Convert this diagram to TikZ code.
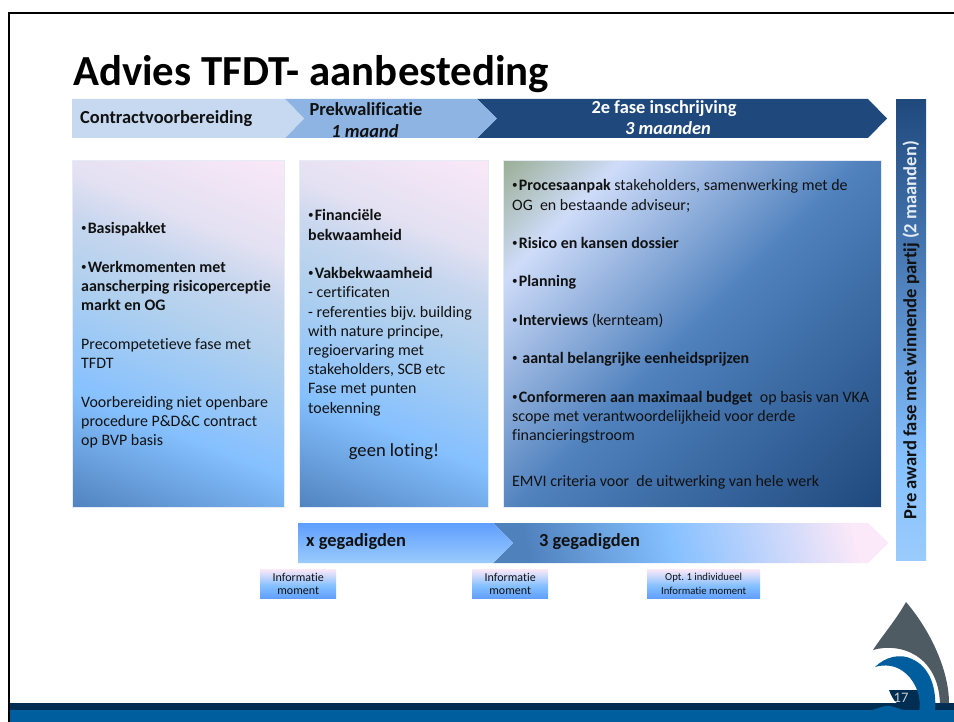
\documentclass[tikz,border=0pt]{standalone}
\usepackage{fontspec}
\setmainfont[Ligatures=NoCommon]{Carlito}
\usetikzlibrary{calc}
\definecolor{navy}{HTML}{1F497D}
\definecolor{midb}{HTML}{8EB4E3}
\definecolor{paleb}{HTML}{C6D9F1}
\definecolor{steel}{HTML}{4F81BD}
\definecolor{skyb}{HTML}{85C0FF}
\definecolor{pinkp}{HTML}{FBE8F8}
\definecolor{lavA}{HTML}{B0D0EE}
\definecolor{lavC}{HTML}{C6D6EE}
\definecolor{lavB}{HTML}{E3E1F2}
\definecolor{sage}{HTML}{9BAF96}
\definecolor{lilac}{HTML}{CFDCF9}
\definecolor{txt}{HTML}{111111}
\definecolor{logog}{HTML}{4F5B63}
\definecolor{logob}{HTML}{005E9E}
\definecolor{logod}{HTML}{002D52}
\definecolor{deepsky}{HTML}{5F9EFF}
\definecolor{lightsky}{HTML}{9ACBFC}
\pgfdeclarehorizontalshading{panelA}{100bp}{color(0bp)=(steel);color(17bp)=(steel);color(35bp)=(skyb);color(52bp)=(lavA);color(61bp)=(lavC);color(68bp)=(lavB);color(83bp)=(pinkp);color(100bp)=(pinkp)}
\pgfdeclarehorizontalshading{panelB}{100bp}{color(0bp)=(sage);color(14.6bp)=(sage);color(26bp)=(lilac);color(50bp)=(steel);color(85.4bp)=(navy);color(100bp)=(navy)}
\pgfdeclarehorizontalshading{barS}{100bp}{color(0bp)=(steel);color(25bp)=(steel);color(47bp)=(skyb);color(75bp)=(pinkp);color(100bp)=(pinkp)}
\pgfdeclareverticalshading{barX}{100bp}{color(0bp)=(lightsky);color(25bp)=(lightsky);color(75bp)=(deepsky);color(100bp)=(deepsky)}
\pgfdeclareverticalshading{sideB}{100bp}{color(0bp)=(lightsky);color(25bp)=(lightsky);color(36bp)=(skyb);color(55bp)=(steel);color(75bp)=(navy);color(100bp)=(navy)}
\pgfdeclareverticalshading{tagS}{100bp}{color(0bp)=(deepsky);color(25bp)=(deepsky);color(47bp)=(skyb);color(75bp)=(pinkp);color(100bp)=(pinkp)}
\tikzset{
  panelone/.style={shading=panelA,shading angle=68,draw=white!85!steel,line width=.5pt,minimum height=347pt,anchor=north west,inner sep=0pt},
  paneltwo/.style={shading=panelB,shading angle=-45,draw=white!85!steel,line width=.5pt,minimum height=347pt,anchor=north west,inner sep=0pt},
  tagbox/.style={shading=tagS,minimum height=29.5pt,anchor=north west,inner sep=0pt,align=flush center,font=\fontsize{12}{13.5}\selectfont,text=txt},
  body/.style={anchor=north west,align=flush left,inner sep=0pt,text=txt,font=\fontsize{15.95}{19.2}\selectfont},
  head/.style={inner sep=0pt,align=flush center,font=\fontsize{18.4}{21}\selectfont\bfseries,text=txt},
  headit/.style={inner sep=0pt,font=\fontsize{18.4}{21}\selectfont\bfseries\itshape,text=txt},
}
\newcommand{\bl}{\makebox[6.6pt][l]{\raisebox{.12em}{\scalebox{.7}{•}}}}
\frenchspacing
\begin{document}
\frenchspacing
\begin{tikzpicture}[x=1pt,y=-1pt]
\useasboundingbox (0,0) rectangle (954,722);
\fill[white] (0,0) rectangle (954,722);
% footer and frame
\fill[logod] (9,703) rectangle (954,710);
\fill[logob] (9,710) rectangle (954,722);
\draw[black,line width=2.4pt] (8.8,722) -- (8.8,12.8) -- (954,12.8);
% title
\node[anchor=base west,inner sep=0pt,font=\fontsize{42.85}{44}\selectfont\bfseries] (title) at (73,85.5) {Advies TFDT- aanbesteding};
% top chevrons
\fill[navy] (477,99) -- (868,99) -- (887,118.5) -- (868,138) -- (477,138) -- (497,118.5) -- cycle;
\fill[midb] (285,99) -- (477,99) -- (497,118.5) -- (477,138) -- (285,138) -- (304,118.5) -- cycle;
\fill[paleb] (72,99) -- (285,99) -- (304,118.5) -- (285,138) -- (72,138) -- cycle;
\node[head,anchor=west] (c1) at (80,118.5) {Contractvoorbereiding};
\node[head] (c2) at (366,109) {Prekwalificatie};
\node[headit] (c2b) at (365,131) {1 maand};
\node[head,text=white] (c3) at (664,109) {2e fase inschrijving};
\node[headit,text=white] (c3b) at (668,128) {3 maanden};
% panels
\node[panelone,minimum width=212pt] (p1) at (72,160) {};
\node[panelone,minimum width=189pt] (p2) at (299,160) {};
\node[paneltwo,minimum width=378pt] (p3) at (503,160) {};
\node[body,text width=200pt] (t1) at (81,222.5) {\bl\textbf{Basispakket}\\[19.5pt]
\bl\textbf{Werkmomenten met}\\\textbf{aanscherping risicoperceptie}\\\textbf{markt en OG}\\[19.5pt]
Precompetetieve fase met\\TFDT\\[19.5pt]
Voorbereiding niet openbare\\procedure P\&D\&C contract\\op BVP basis};
\node[body,text width=178pt] (t2) at (308,209.5) {\bl\textbf{Financiële}\\\textbf{bekwaamheid}\\[19.5pt]
\bl\textbf{Vakbekwaamheid}\\- certificaten\\- referenties bijv. building\\with nature principe,\\regioervaring met\\stakeholders, SCB etc\\Fase met punten\\toekenning};
\node[inner sep=0pt,text=txt,font=\fontsize{18.6}{21}\selectfont] (t2b) at (394,452) {geen loting!};
\node[body,text width=366pt] (t3) at (512,179.5) {\bl\textbf{Procesaanpak} stakeholders, samenwerking met de\\OG\ \ en bestaande adviseur;\\[19.2pt]
\bl\textbf{Risico en kansen dossier}\\[19.2pt]
\bl\textbf{Planning}\\[19.2pt]
\bl\textbf{Interviews} (kernteam)\\[19.2pt]
\bl\ \textbf{aantal belangrijke eenheidsprijzen}\\[19.2pt]
\bl\textbf{Conformeren aan maximaal budget}\ \ op basis van VKA\\scope met verantwoordelijkheid voor derde\\financieringstroom\\[27pt]
EMVI criteria voor\ \ de uitwerking van hele werk};
% side bar
\node[shading=sideB,minimum width=30pt,minimum height=461pt,anchor=north west,inner sep=0pt] (side) at (896,99) {};
\node[rotate=90,inner sep=0pt,font=\fontsize{18.6}{21}\selectfont\bfseries,text=txt] (sidet) at (911,330) {Pre award fase met winnende partij \textcolor{white!85!steel}{(2 maanden)}};
% bottom chevrons
\path[shading=barS,shading angle=15] (493,523) -- (868,523) -- (888,543) -- (868,563) -- (493,563) -- (513,543) -- cycle;
\path[shading=barX] (298,523) -- (493,523) -- (513,543) -- (493,563) -- (298,563) -- cycle;
\node[head,anchor=west] (g1) at (306,541.5) {x gegadigden};
\node[head,anchor=west] (g2) at (539,541.5) {3 gegadigden};
% info tags
\node[tagbox,minimum width=76pt] (i1) at (260,569) {Informatie\\moment};
\node[tagbox,minimum width=76pt] (i2) at (472,569) {Informatie\\moment};
\node[tagbox,minimum width=113pt,font=\fontsize{10.7}{13.5}\selectfont] (i3) at (647,569) {Opt. 1 individueel\\Informatie moment};
% logo
\fill[logog] (906,602) .. controls (896,620) and (882,636) .. (873,650) .. controls (900,642) and (938,655) .. (940,703) -- (949,703) .. controls (949,670) and (930,630) .. (906,602) -- cycle;
\fill[logod] (889,690) -- (921,690) -- (921,703) -- (897,703) .. controls (893,700) and (891,695) .. (889,690) -- cycle;
\fill[logob] (875,667) .. controls (885,657) and (900,653) .. (912,659) .. controls (930,667) and (937,688) .. (935,712) -- (919,712) .. controls (924,690) and (905,658) .. (875,667) -- cycle;
\fill[logob] (872,710) .. controls (880,708) and (884,705) .. (890,706) .. controls (896,707) and (900,710) .. (906,710) -- cycle;
\node[inner sep=0pt,text=white!70!logog,font=\fontsize{14.5}{16}\selectfont] (num) at (901,698) {17};
\end{tikzpicture}
\end{document}
